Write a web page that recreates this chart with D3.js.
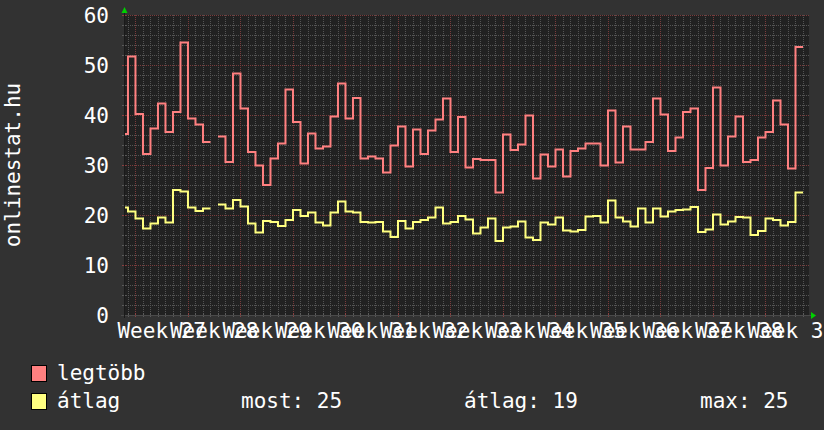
<!DOCTYPE html>
<html>
<head>
<meta charset="utf-8">
<script src="https://cdn.jsdelivr.net/npm/d3@7/dist/d3.min.js"></script>
<style>
  body { margin: 0; background: #323232; }
  svg { display: block; }
  text { font-family: "DejaVu Sans Mono", monospace; fill: #ffffff; }
</style>
</head>
<body>
<svg width="824" height="430"></svg>
<script>
// napi értékek, az első nap 2010-07-03 (szombat), a null egy hiányzó nap
const elso_nap = "2010-07-03";

const legtobb = [
  36.2, 51.7, 40.2, 32.2, 37.3, 42.3, 36.6, 40.6, 54.5, 39.3, 38.1, 34.6, null,
  35.7, 30.6, 48.3, 41.3, 32.6, 29.9, 26.0, 31.3, 34.3, 45.1, 38.6, 30.3, 36.3,
  33.3, 33.7, 39.7, 46.3, 39.3, 43.4, 31.3, 31.7, 31.3, 28.5, 33.9, 37.7, 29.7,
  37.1, 32.2, 36.9, 39.1, 43.3, 32.6, 39.6, 29.5, 31.2, 31.0, 31.0, 24.5, 36.1,
  33.0, 34.1, 39.9, 27.3, 32.1, 29.7, 33.1, 27.7, 32.8, 33.3, 34.3, 34.3, 29.9,
  40.9, 30.5, 37.7, 33.1, 33.1, 34.6, 43.3, 40.1, 32.8, 35.5, 40.6, 41.3, 25.0,
  29.4, 45.5, 29.9, 35.7, 39.7, 30.6, 31.0, 35.5, 36.6, 42.9, 38.1, 29.3, 53.6
];

const atlag = [
  21.5, 20.7, 19.3, 17.3, 18.3, 19.5, 18.5, 25.0, 24.7, 21.5, 20.8, 21.3, null,
  22.1, 21.3, 23.0, 21.7, 18.3, 16.5, 18.8, 18.6, 17.8, 19.0, 21.0, 19.8, 20.5,
  18.5, 17.9, 20.5, 22.7, 20.7, 20.5, 18.6, 18.5, 18.6, 16.7, 15.6, 18.8, 17.3,
  18.6, 19.0, 19.5, 21.5, 18.3, 18.6, 19.8, 19.1, 16.3, 17.5, 19.3, 14.8, 17.5,
  17.7, 18.7, 15.5, 15.0, 18.5, 18.1, 19.5, 16.9, 16.7, 17.0, 19.7, 19.8, 18.5,
  22.9, 19.5, 18.7, 17.7, 21.3, 18.5, 21.3, 19.7, 20.7, 21.0, 21.1, 21.6, 16.6,
  17.1, 20.1, 18.1, 18.7, 19.6, 19.5, 16.0, 16.8, 19.3, 19.0, 17.9, 18.6, 24.5
];

const hetek = [
  "Week 27", "Week 28", "Week 29", "Week 30", "Week 31", "Week 32", "Week 33",
  "Week 34", "Week 35", "Week 36", "Week 37", "Week 38", "Week 39"
];

const y_cimkek = [0, 10, 20, 30, 40, 50, 60];
const sorozat_nevek = ["legtöbb", "átlag"];
const gprint_nevek = ["most", "átlag", "max"];
const fuggoleges_cimke = "onlinestat.hu";

const params = {
  bal: 124, jobb: 809, fent: 15, lent: 315,
  ido_kezdet: new Date(Date.UTC(2010, 6, 3, 11, 17)),
  ido_veg: new Date(Date.UTC(2010, 9, 2, 19, 12)),
  szinek: { legtobb: "#ff8080", atlag: "#ffff80" },
  racs: "#545454", racs_fo: "#7a3c3c", nyil: "#00d000"
};

const svg = d3.select("svg");
const kezdo = new Date(elso_nap + "T00:00:00Z");

const x = d3.scaleUtc()
  .domain([params.ido_kezdet, params.ido_veg])
  .range([params.bal, params.jobb]);

const y = d3.scaleLinear()
  .domain([0, 60])
  .range([params.lent, params.fent]);

// háttér a rajzterülethez
svg.append("rect")
  .attr("x", params.bal).attr("y", params.fent)
  .attr("width", params.jobb - params.bal)
  .attr("height", params.lent - params.fent)
  .attr("fill", "#212121");

// rács
const racs = svg.append("g").attr("shape-rendering", "crispEdges");

const napok = d3.utcDay.range(params.ido_kezdet, params.ido_veg);
const hetfok = d3.utcMonday.range(params.ido_kezdet, params.ido_veg);

racs.selectAll(".kis-x")
  .data(napok.filter(d => d.getUTCDay() !== 1))
  .join("line")
  .attr("x1", d => Math.round(x(d)) + 0.5).attr("x2", d => Math.round(x(d)) + 0.5)
  .attr("y1", params.fent).attr("y2", params.lent)
  .attr("stroke", params.racs).attr("stroke-dasharray", "1,1");

racs.selectAll(".kis-y")
  .data(d3.range(2, 60, 2).filter(v => v % 10 !== 0))
  .join("line")
  .attr("x1", params.bal).attr("x2", params.jobb)
  .attr("y1", d => Math.round(y(d)) + 0.5).attr("y2", d => Math.round(y(d)) + 0.5)
  .attr("stroke", params.racs).attr("stroke-dasharray", "1,1");

racs.selectAll(".fo-x")
  .data(hetfok)
  .join("line")
  .attr("x1", d => Math.round(x(d)) + 0.5).attr("x2", d => Math.round(x(d)) + 0.5)
  .attr("y1", params.fent).attr("y2", params.lent)
  .attr("stroke", params.racs_fo).attr("stroke-dasharray", "1,1");

racs.selectAll(".fo-y")
  .data(y_cimkek.filter(v => v > 0))
  .join("line")
  .attr("x1", params.bal).attr("x2", params.jobb)
  .attr("y1", d => Math.round(y(d)) + 0.5).attr("y2", d => Math.round(y(d)) + 0.5)
  .attr("stroke", params.racs_fo).attr("stroke-dasharray", "1,1");

// lépcsős vonalak: minden nap két pontja, a null megszakítja
function lepcso(ertekek) {
  const pontok = [];
  ertekek.forEach((v, i) => {
    if (v === null) { pontok.push(null); return; }
    const nap = d3.utcDay.offset(kezdo, i);
    pontok.push({ t: nap, v: v }, { t: d3.utcDay.offset(nap, 1), v: v });
  });
  return pontok;
}

svg.append("clipPath").attr("id", "vago")
  .append("rect")
  .attr("x", params.bal).attr("y", 0)
  .attr("width", params.jobb - params.bal).attr("height", params.lent + 2);

const vonal = d3.line()
  .defined(d => d !== null)
  .x(d => x(d.t))
  .y(d => y(d.v));

const vonalak = svg.append("g").attr("clip-path", "url(#vago)");

[[legtobb, params.szinek.legtobb], [atlag, params.szinek.atlag]].forEach(([ertekek, szin]) => {
  vonalak.append("path")
    .attr("d", vonal(lepcso(ertekek)))
    .attr("fill", "none")
    .attr("stroke", szin)
    .attr("stroke-width", 2)
    .attr("stroke-linejoin", "miter");
});

// tengelyek és kis jelek
const tengely = svg.append("g").attr("shape-rendering", "crispEdges");

tengely.selectAll(".jel-x")
  .data(napok)
  .join("line")
  .attr("x1", d => Math.round(x(d)) + 0.5).attr("x2", d => Math.round(x(d)) + 0.5)
  .attr("y1", params.lent - 2).attr("y2", params.lent + 2)
  .attr("stroke", d => d.getUTCDay() === 1 ? "#8a4040" : "#5a5a5a");

tengely.selectAll(".jel-y")
  .data(d3.range(0, 61, 2))
  .join("line")
  .attr("x1", params.bal - 2).attr("x2", params.bal + 2)
  .attr("y1", d => Math.round(y(d)) + 0.5).attr("y2", d => Math.round(y(d)) + 0.5)
  .attr("stroke", d => d % 10 === 0 ? "#8a4040" : "#5a5a5a");

tengely.append("line")
  .attr("x1", params.bal - 3).attr("x2", params.jobb + 2)
  .attr("y1", params.lent + 0.5).attr("y2", params.lent + 0.5)
  .attr("stroke", "#4a4a4a");

tengely.append("line")
  .attr("x1", params.bal + 0.5).attr("x2", params.bal + 0.5)
  .attr("y1", params.fent - 3).attr("y2", params.lent + 3)
  .attr("stroke", "#1a1a1a");

// zöld nyilak
svg.append("path")
  .attr("d", `M${params.bal - 2.5},${params.fent - 2}L${params.bal + 0.5},${params.fent - 8}L${params.bal + 3.5},${params.fent - 2}Z`)
  .attr("fill", params.nyil);

svg.append("path")
  .attr("d", `M${params.jobb + 2},${params.lent - 3}L${params.jobb + 7},${params.lent + 0.5}L${params.jobb + 2},${params.lent + 4}Z`)
  .attr("fill", params.nyil);

// feliratok
svg.selectAll(".y-cimke")
  .data(y_cimkek)
  .join("text")
  .attr("x", 109)
  .attr("y", d => y(d) + 8)
  .attr("text-anchor", "end")
  .attr("font-size", 21)
  .text(d => d);

svg.selectAll(".het-cimke")
  .data(hetfok.slice(0, hetek.length))
  .join("text")
  .attr("x", d => x(d3.utcHour.offset(d, 84)))
  .attr("y", 338)
  .attr("text-anchor", "middle")
  .attr("font-size", 21)
  .text((d, i) => hetek[i]);

svg.append("text")
  .attr("transform", "translate(20,165) rotate(-90)")
  .attr("text-anchor", "middle")
  .attr("font-size", 21)
  .text(fuggoleges_cimke);

// jelmagyarázat
const sor_y = [365, 393];
const sor_szinek = [params.szinek.legtobb, params.szinek.atlag];

sorozat_nevek.forEach((nev, i) => {
  svg.append("rect")
    .attr("x", 31.5).attr("y", sor_y[i] + 0.5)
    .attr("width", 15).attr("height", 16)
    .attr("fill", sor_szinek[i])
    .attr("stroke", "#000").attr("stroke-width", 1);
  svg.append("text")
    .attr("x", 57).attr("y", sor_y[i] + 15)
    .attr("font-size", 21)
    .text(nev);
});

const ervenyes = atlag.filter(v => v !== null);
const gprint_ertekek = [ervenyes[ervenyes.length - 1], d3.mean(ervenyes), d3.max(ervenyes)];
const gprint_x = [241, 464, 700];

gprint_nevek.forEach((nev, i) => {
  svg.append("text")
    .attr("x", gprint_x[i]).attr("y", sor_y[1] + 15)
    .attr("font-size", 21)
    .text(nev + ": " + Math.round(gprint_ertekek[i]));
});
</script>
</body>
</html>
